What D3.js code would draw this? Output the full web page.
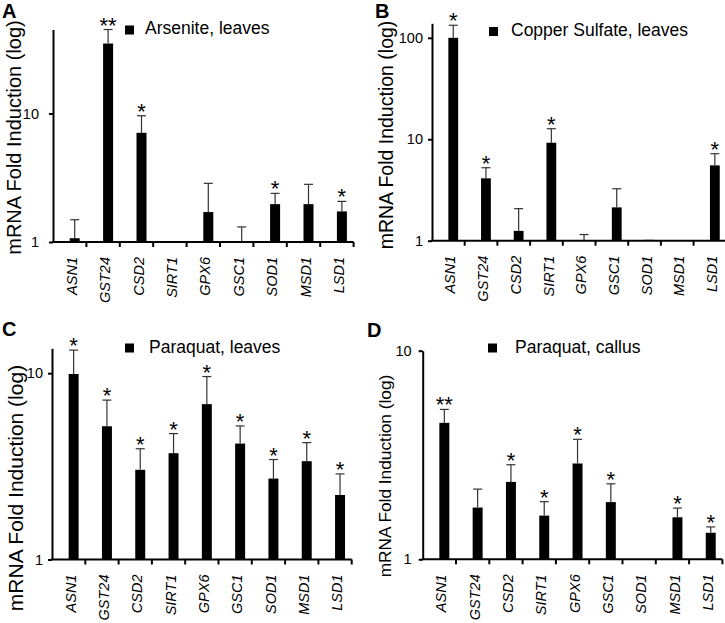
<!DOCTYPE html>
<html lang="en">
<head>
<meta charset="UTF-8">
<script src="https://cdn.jsdelivr.net/npm/d3@7/dist/d3.min.js"></script>
<title>mRNA Fold Induction</title>
<style>
    body, html{
        margin: 0;
        padding: 0;
        background: #fff;
    }
    text{
        font-family: "Liberation Sans", Arial, sans-serif;
    }
</style>
</head>
<body>
<div id="chart"></div>
<script>

// data
const genes = ["ASN1", "GST24", "CSD2", "SIRT1", "GPX6", "GSC1", "SOD1", "MSD1", "LSD1"]
// control is the hidden first series (level 1), only the treated one is drawn
const seriesKeys = ["control", "treated"]
const yTitle = "mRNA Fold Induction (log)"

// A - arsenite, leaves
const arseniteMean = [1.07, 35, 7.07, 1, 1.71, 1, 1.97, 1.97, 1.73]
const arseniteErr = [0.42, 10, 2.53, 0, 1.15, 0.31, 0.42, 0.84, 0.34]
const arseniteSig = ["", "**", "*", "", "", "", "*", "", "*"]

// B - copper sulfate, leaves
const copperMean = [100, 4.12, 1.25, 9.24, 1, 2.13, 1.02, 1, 5.53]
const copperErr = [33, 1.12, 0.82, 3.46, 0.15, 1.12, 0, 0, 1.67]
const copperSig = ["*", "*", "", "*", "", "", "", "", "*"]

// C - paraquat, leaves
const pqLeafMean = [9.9, 5.19, 3.03, 3.72, 6.82, 4.19, 2.72, 3.37, 2.22]
const pqLeafErr = [3.4, 1.98, 0.9, 1.02, 2.77, 1.02, 0.72, 0.87, 0.66]
const pqLeafSig = ["*", "*", "*", "*", "*", "*", "*", "*", "*"]

// D - paraquat, callus
const pqCallusMean = [4.51, 1.77, 2.35, 1.62, 2.88, 1.88, 1, 1.59, 1.34]
const pqCallusErr = [0.72, 0.4, 0.49, 0.27, 0.88, 0.42, 0, 0.17, 0.09]
const pqCallusSig = ["**", "", "*", "*", "*", "*", "", "*", "*"]

const panelLetters = ["A", "B", "C", "D"]
const legendLabels = ["Arsenite, leaves", "Copper Sulfate, leaves", "Paraquat, leaves", "Paraquat, callus"]
const yMax = [45, 139, 13.6, 10]
const yTicks = [[1, 10], [1, 10, 100], [1, 10], [1, 10]]

const means = [arseniteMean, copperMean, pqLeafMean, pqCallusMean]
const errs = [arseniteErr, copperErr, pqLeafErr, pqCallusErr]
const sigs = [arseniteSig, copperSig, pqLeafSig, pqCallusSig]

// layout of each panel (pixels)
const layout = [
    { x0: 53, step: 33.4, top: 29.5, base: 242, letter: [2, 18], title: [13.5, 137.5, 20], legend: [125, 25.5, 145, 34], tickGap: 10 },
    { x0: 432, step: 32.7, top: 23.3, base: 240.7, letter: [375, 18], title: [386, 135, 19.5], legend: [489, 27, 511, 36], tickGap: 5 },
    { x0: 52, step: 33.3, top: 348.3, base: 559.5, letter: [2, 336], title: [15.5, 488, 21], legend: [125, 343.5, 149, 352.5], tickGap: 5 },
    { x0: 422.7, step: 33.3, top: 350.7, base: 559.3, letter: [367, 337], title: [385, 476, 17.3], legend: [488, 343.5, 515, 352.5], tickGap: 7 },
]

const svg = d3.select("#chart").append("svg").attr("width", 725).attr("height", 623).style("background-color", "#fff")

layout.forEach((p, k) => {
    const g = svg.append("g")
    const x = d3.scaleBand().domain(genes).range([p.x0, p.x0 + p.step * genes.length])
    const sub = d3.scaleBand().domain(seriesKeys).range([0, x.bandwidth()]).paddingOuter(0.67)
    const y = d3.scaleLog().domain([1, yMax[k]]).range([p.base, p.top])

    const rows = genes.map((gene, i) => ({ gene, v: means[k][i], e: errs[k][i], s: sigs[k][i] }))
    const cx = d => x(d.gene) + sub("treated") + sub.bandwidth() / 2

    // bars
    g.selectAll("rect.bar").data(rows.filter(d => d.v > 1)).join("rect").attr("class", "bar")
        .attr("x", d => x(d.gene) + sub("treated")).attr("width", sub.bandwidth())
        .attr("y", d => y(d.v)).attr("height", d => y(1) - y(d.v)).attr("fill", "#000")

    // error bars (upper only)
    const eb = rows.filter(d => d.e > 0)
    g.selectAll("line.err").data(eb).join("line").attr("class", "err")
        .attr("x1", cx).attr("x2", cx).attr("y1", d => y(d.v)).attr("y2", d => y(d.v + d.e))
        .attr("stroke", "#333").attr("stroke-width", 1.2)
    g.selectAll("line.cap").data(eb).join("line").attr("class", "cap")
        .attr("x1", d => cx(d) - 4.5).attr("x2", d => cx(d) + 4.5).attr("y1", d => y(d.v + d.e)).attr("y2", d => y(d.v + d.e))
        .attr("stroke", "#333").attr("stroke-width", 1.2)

    // significance stars
    g.selectAll("text.sig").data(rows.filter(d => d.s)).join("text").attr("class", "sig")
        .attr("x", cx).attr("y", d => y(d.v + d.e) + 3).attr("text-anchor", "middle")
        .attr("font-size", 22).text(d => d.s)

    // y axis
    const yAxis = g.append("g").attr("transform", `translate(${p.x0},0)`)
        .call(d3.axisLeft(y).tickValues(yTicks[k]).tickFormat(d3.format("d")).tickSize(4).tickSizeOuter(0).tickPadding(p.tickGap))
    yAxis.select(".domain").attr("stroke-width", 2)
    yAxis.selectAll(".tick line").attr("stroke-width", 2)
    yAxis.selectAll(".tick text").attr("font-size", 14.5).attr("font-family", "Liberation Sans, Arial, sans-serif").attr("fill", "#000")

    // x axis: baseline + ticks between categories
    g.append("line").attr("x1", p.x0 - 1).attr("x2", x.range()[1]).attr("y1", y(1)).attr("y2", y(1))
        .attr("stroke", "#000").attr("stroke-width", 2)
    const bounds = genes.slice(1).map(d => x(d)).concat([x.range()[1]])
    g.selectAll("line.xt").data(bounds).join("line").attr("class", "xt")
        .attr("x1", d => d).attr("x2", d => d).attr("y1", y(1)).attr("y2", y(1) + 5)
        .attr("stroke", "#000").attr("stroke-width", 2)

    // category labels
    g.selectAll("text.cat").data(genes).join("text").attr("class", "cat")
        .attr("transform", d => `translate(${x(d) + x.bandwidth() / 2 + 2},${y(1) + 15}) rotate(-90)`)
        .attr("dy", "0.35em").attr("text-anchor", "end").attr("font-style", "italic").attr("font-size", 14.5)
        .text(d => d)

    // y title
    g.append("text").attr("transform", `translate(${p.title[0]},${p.title[1]}) rotate(-90)`)
        .attr("dy", "0.35em").attr("text-anchor", "middle").attr("font-size", p.title[2]).text(yTitle)

    // legend
    g.append("rect").attr("x", p.legend[0]).attr("y", p.legend[1]).attr("width", 9).attr("height", 9).attr("fill", "#000")
    g.append("text").attr("x", p.legend[2]).attr("y", p.legend[3]).attr("font-size", 17.5).text(legendLabels[k])

    // panel letter
    g.append("text").attr("x", p.letter[0]).attr("y", p.letter[1]).attr("font-size", 20).attr("font-weight", "bold").text(panelLetters[k])
})

</script>
</body>
</html>
